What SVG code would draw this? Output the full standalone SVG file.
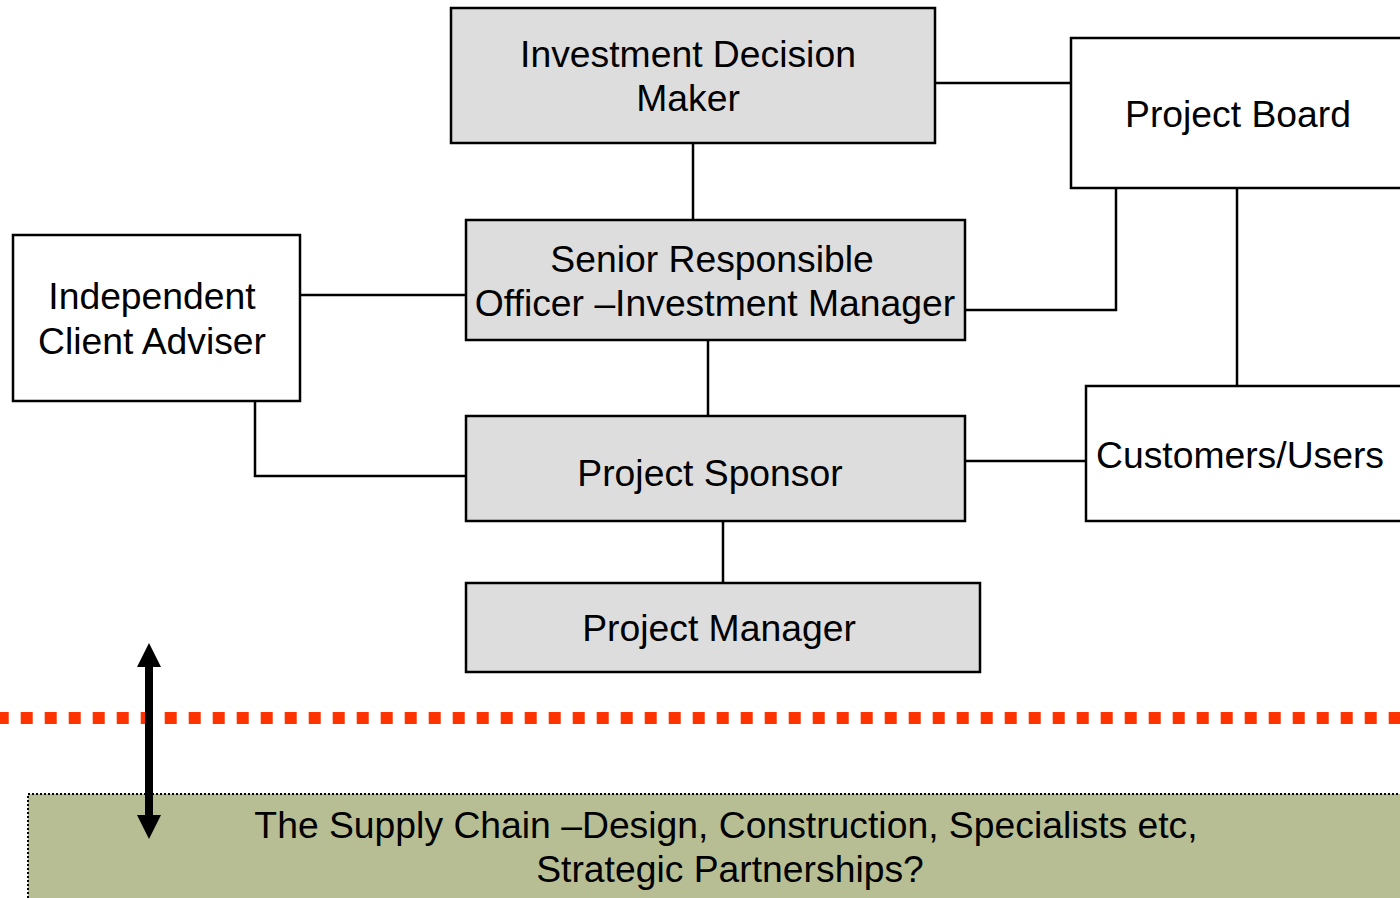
<svg xmlns="http://www.w3.org/2000/svg" width="1400" height="898" viewBox="0 0 1400 898">
<style>
.box{fill:#DDDDDD;stroke:#000;stroke-width:2.5}
.wbox{fill:#FFFFFF;stroke:#000;stroke-width:2.5}
.ln{fill:none;stroke:#000;stroke-width:2.5}
text{font-family:"Liberation Sans",Arial,sans-serif;font-size:37.3px;fill:#000;text-anchor:middle}
</style>
<rect width="1400" height="898" fill="#FFFFFF"/>
<g id="connectors">
<path class="ln" d="M935,83 H1071"/>
<path class="ln" d="M693,143 V220"/>
<path class="ln" d="M965,310 H1116 V188"/>
<path class="ln" d="M1237,188 V386"/>
<path class="ln" d="M300,295 H466"/>
<path class="ln" d="M255,401 V476 H466"/>
<path class="ln" d="M708,340 V416"/>
<path class="ln" d="M965,461 H1086"/>
<path class="ln" d="M723,521 V583"/>
</g>
<g id="supply-chain">
<rect x="28" y="794" width="1380" height="120" fill="#B7BE94" stroke="#000" stroke-width="2" stroke-dasharray="2 2"/>
<text x="726" y="838">The Supply Chain –Design, Construction, Specialists etc,</text>
<text x="730" y="882">Strategic Partnerships?</text>
</g>
<g id="divider">
<line x1="0" y1="718" x2="1400" y2="718" stroke="#FF3300" stroke-width="12" stroke-dasharray="12 12" stroke-dashoffset="3.3"/>
</g>
<g id="arrow">
<line x1="149" y1="664" x2="149" y2="818" stroke="#000" stroke-width="8"/>
<polygon points="149,643 161,667 137,667" fill="#000"/>
<polygon points="149,839 161,815 137,815" fill="#000"/>
</g>
<g id="investment-decision-maker">
<rect class="box" x="451" y="8" width="484" height="135"/>
<text x="688" y="67">Investment Decision</text>
<text x="688" y="111">Maker</text>
</g>
<g id="project-board">
<rect class="wbox" x="1071" y="38" width="340" height="150"/>
<text x="1238" y="127">Project Board</text>
</g>
<g id="senior-responsible-officer">
<rect class="box" x="466" y="220" width="499" height="120"/>
<text x="712" y="272">Senior Responsible</text>
<text x="715" y="316">Officer –Investment Manager</text>
</g>
<g id="independent-client-adviser">
<rect class="wbox" x="13" y="235" width="287" height="166"/>
<text x="152" y="309">Independent</text>
<text x="152" y="354">Client Adviser</text>
</g>
<g id="project-sponsor">
<rect class="box" x="466" y="416" width="499" height="105"/>
<text x="710" y="486">Project Sponsor</text>
</g>
<g id="customers-users">
<rect class="wbox" x="1086" y="386" width="330" height="135"/>
<text x="1240" y="468">Customers/Users</text>
</g>
<g id="project-manager">
<rect class="box" x="466" y="583" width="514" height="89"/>
<text x="719" y="641">Project Manager</text>
</g>
</svg>
